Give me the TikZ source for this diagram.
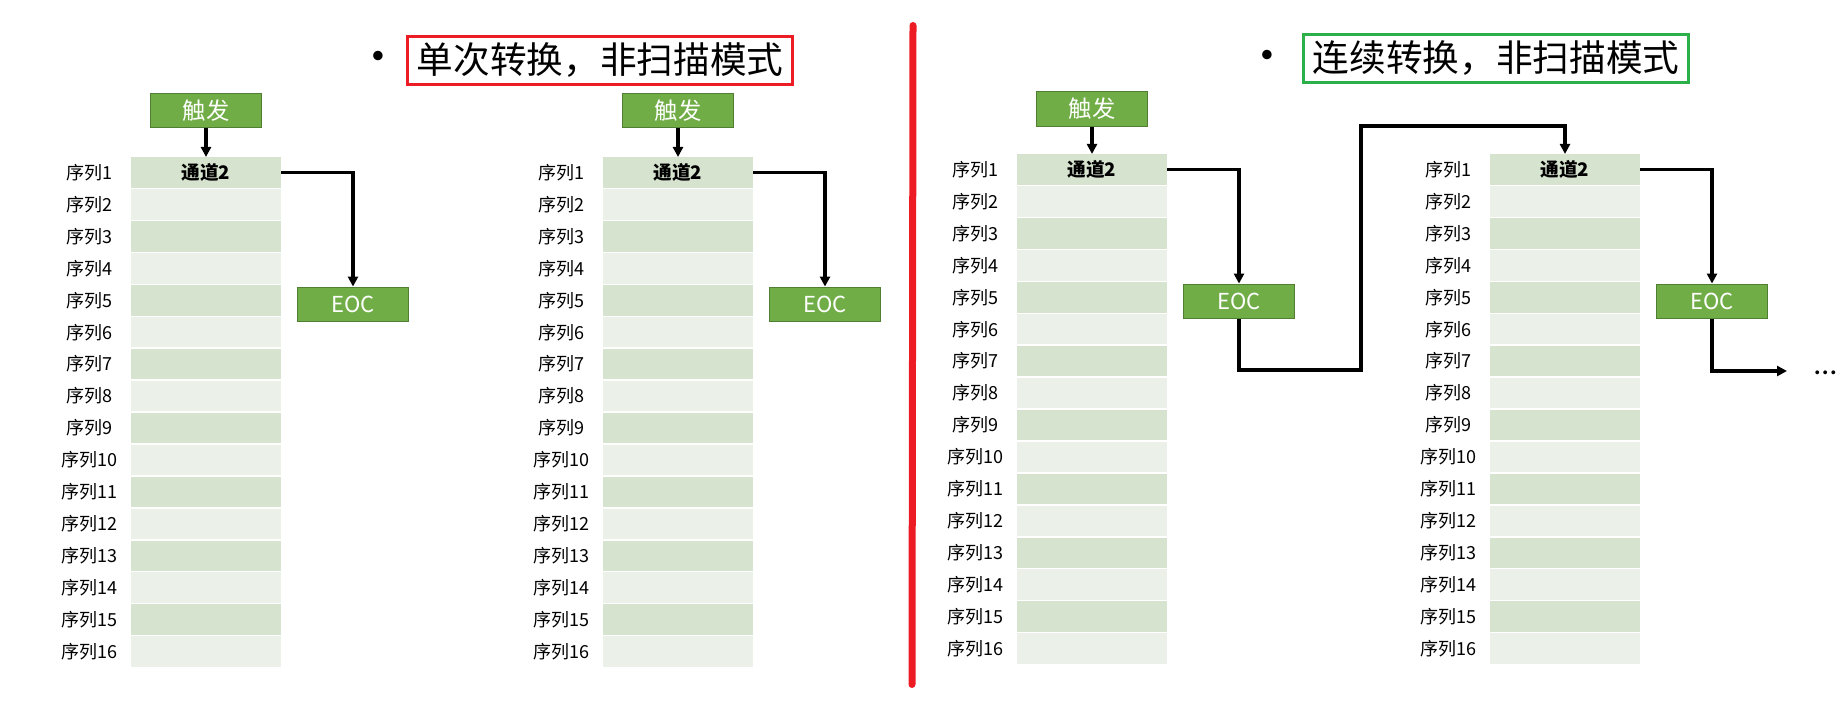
\documentclass[tikz,border=0pt]{standalone}
\usepackage{fontspec}
\setmainfont{Noto Sans CJK SC}
\newfontfamily\latin{Carlito}
\usetikzlibrary{arrows.meta}
\definecolor{rowdark}{HTML}{D6E3CF}
\definecolor{rowlight}{HTML}{EBF1E8}
\definecolor{boxgreen}{HTML}{70AD47}
\definecolor{boxedge}{HTML}{507E32}
\definecolor{markred}{HTML}{ED1C24}
\definecolor{markgreen}{HTML}{2BB04A}
\tikzset{
  cell/.style= {minimum width=112.5pt, minimum height=22.9pt, inner sep=0},
  row1/.style= {fill=rowdark},
  row0/.style= {fill=rowlight},
  seq/.style= {inner sep=0, font=\fontsize{13.5}{16}\selectfont},
  chan/.style= {inner sep=0, font=\fontsize{14}{16}\selectfont\bfseries},
  gbox/.style= {draw=boxedge, line width=0.9pt, fill=boxgreen, text=white,
    minimum width=83pt, minimum height=26pt, inner sep=0,
    font=\fontsize{17.5}{20}\selectfont},
  title/.style= {line width=2.2pt, minimum width=289pt, minimum height=36.5pt,
    inner sep=0, font=\fontsize{27.5}{30}\selectfont},
  bullet/.style= {inner sep=0, font=\latin\fontsize{20}{20}\selectfont},
  wire/.style= {line width=2.5pt, -{Triangle[length=7.5pt,width=7.5pt]}},
}

\begin{document}
\begin{tikzpicture}[x=0.75pt, y=-0.75pt]
  \useasboundingbox (0,0) rectangle (1843,703);

  % four sequence tables
  \foreach \t/\ox/\oy in {A/131/157, B/603/157, C/1017/154, D/1490/154} {
    \foreach \k [evaluate=\k as \c using {int(mod(\k,2))},
                 evaluate=\k as \y using {\oy+15.5+(\k-1)*31.94}] in {1,...,16} {
      \node [cell, row\c] (\t\k) at ({\ox+75}, \y) {} ;
      \node [seq] (s\t\k) at ({\ox-42}, \y) {序列\k} ;
    }
    \node [chan] (ch\t) at (\t1) {通道2} ;
    \node [gbox, font=\fontsize{16.5}{20}\selectfont] (e\t) at ({\ox+222}, {\oy+147.5}) {EOC} ;
  }

  \node [gbox] (tA) at (206,110.5) {触发} ;
  \node [gbox] (tB) at (678,110.5) {触发} ;
  \node [gbox] (tC) at (1092,109) {触发} ;

  % titles
  \node [bullet] (dotL) at (378,57) {•} ;
  \node [title, draw=markred] (headL) at (600,60.5) {单次转换，非扫描模式} ;
  \node [bullet] (dotR) at (1267,56) {•} ;
  \node [title, draw=markgreen] (headR) at (1496,58.5) {连续转换，非扫描模式} ;

  \draw [markred, line width=5.25pt, line cap=round] (913,25.5) -- (912,684.5) ;

  % connectors
  \coordinate (bend1) at (1361,370) ;
  \coordinate (bend2) at (1361,126) ;
  \coordinate (more) at (1787,371) ;
  \foreach \t in {A,B,C} \draw [wire] (t\t) -- (\t1) ;
  \foreach \t in {A,B,C,D} \draw [wire] (\t1.east) -| (e\t) ;
  \draw [wire] (eC) |- (bend1) -- (bend2) -| (D1) ;
  \draw [wire] (eD) |- (more) ;
  \node [inner sep=0, anchor=base west, font=\latin\fontsize{24}{24}\selectfont] (etc) at (1814,374) {…} ;
\end{tikzpicture}
\end{document}
